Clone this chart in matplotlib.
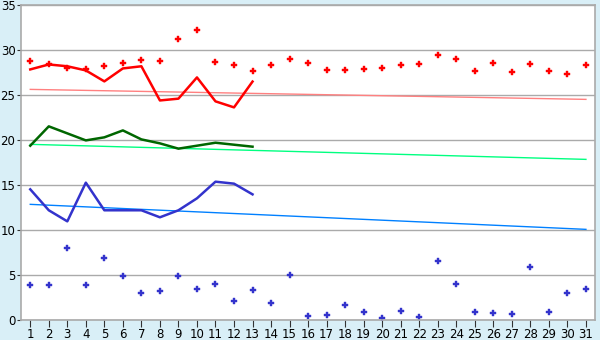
import numpy as np
import matplotlib.pyplot as plt

days = list(range(1, 32))

red_points = [28.74, 28.4, 27.96, 27.85, 28.19, 28.52, 28.85, 28.74, 31.19, 32.19,
              28.63, 28.3, 27.63, 28.3, 28.96, 28.52, 27.74, 27.74, 27.85, 27.96,
              28.3, 28.41, 29.41, 28.96, 27.63, 28.52, 27.52, 28.41, 27.63, 27.3, 28.3]
red_line = [27.85, 28.4, 28.2, 27.74, 26.52, 27.96, 28.2, 24.4, 24.6, 26.96,
            24.3, 23.63, 26.5]
green_line = [19.37, 21.52, 20.74, 19.96, 20.3, 21.07, 20.07, 19.63, 19.04, 19.37,
              19.7, 19.48, 19.26]
blue_line = [14.52, 12.19, 10.96, 15.26, 12.19, 12.19, 12.19, 11.41, 12.19, 13.52,
             15.37, 15.15, 13.96]
blue_points = [3.85, 3.85, 7.96, 3.85, 6.85, 4.85, 2.96, 3.19, 4.85, 3.41,
               3.96, 2.07, 3.3, 1.85, 4.96, 0.41, 0.52, 1.63, 0.85, 0.19,
               0.96, 0.3, 6.52, 3.96, 0.85, 0.74, 0.63, 5.85, 0.85, 2.96, 3.41]
# trend lines: value at day 1 and day 31
red_trend = [25.63, 24.52]
green_trend = [19.52, 17.85]
blue_trend = [12.85, 10.07]

bg = '#d9eff7'
fig = plt.figure(figsize=(6, 3.4), dpi=100, facecolor=bg)
ax = fig.add_axes([0.035, 0.059, 0.957, 0.926])
ax.set_facecolor('white')

ends = [days[0], days[-1]]
ax.plot(ends, red_trend, color='#ff8080', lw=1)
ax.plot(ends, green_trend, color='#00ff80', lw=1)
ax.plot(ends, blue_trend, color='#0080ff', lw=1)

n = len(red_line)
ax.plot(days[:n], red_line, color='#ff0000', lw=1.8)
ax.plot(days[:n], green_line, color='#006600', lw=1.8)
ax.plot(days[:n], blue_line, color='#3333cc', lw=1.8)

ax.plot(days, red_points, ls='none', marker='P', ms=4.5, color='#ff0000', mew=0.3)
ax.plot(days, blue_points, ls='none', marker='P', ms=4.5, color='#3333cc', mew=0.3)

ax.set_xlim(0.5, 31.5)
ax.set_ylim(0, 35)
ax.set_xticks(days)
ax.set_yticks(range(0, 36, 5))
ax.grid(axis='y', color='#aaaaaa', lw=1)
ax.set_axisbelow(True)
for s in ax.spines.values():
    s.set_color('#aaaaaa')
    s.set_linewidth(1.2)
ax.tick_params(axis='x', length=5, color='#333333', labelsize=8.5, pad=1)
ax.tick_params(axis='y', length=3, color='#333333', labelsize=8.5, pad=1)

fig.savefig('out.png', facecolor=bg)
